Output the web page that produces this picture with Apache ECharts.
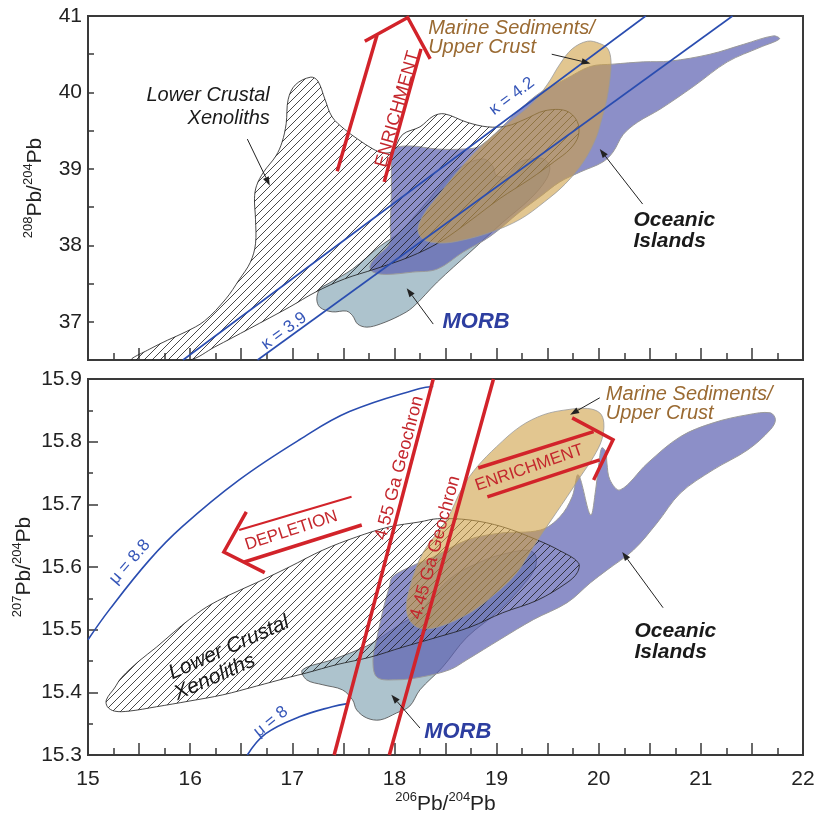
<!DOCTYPE html>
<html>
<head>
<meta charset="utf-8">
<script src="https://cdn.jsdelivr.net/npm/echarts@6.0.0/dist/echarts.min.js"></script>
<style>
  html, body { margin: 0; padding: 0; background: #fff; }
  #chart { width: 824px; height: 816px; }
</style>
</head>
<body>
<div id="chart"></div>
<script>
'use strict';

// ---- fields, top panel (208Pb/204Pb vs 206Pb/204Pb) ----
const xenoTop = [[15.43,36.5],[15.60,36.64],[15.78,36.76],[15.96,36.87],[16.14,37.01],[16.35,37.30],[16.48,37.55],[16.59,37.78],[16.64,38.02],[16.64,38.34],[16.63,38.61],[16.65,38.78],[16.72,38.96],[16.84,39.17],[16.90,39.35],[16.94,39.59],[16.96,39.91],[17.03,40.10],[17.18,40.20],[17.25,40.15],[17.32,39.91],[17.39,39.68],[17.51,39.52],[17.64,39.39],[17.79,39.26],[17.89,39.21],[17.98,39.23],[18.08,39.45],[18.25,39.55],[18.38,39.69],[18.49,39.72],[18.71,39.61],[18.91,39.55],[19.10,39.56],[19.28,39.65],[19.47,39.76],[19.68,39.76],[19.79,39.62],[19.80,39.43],[19.72,39.26],[19.57,39.10],[19.33,38.87],[19.03,38.61],[18.74,38.32],[18.44,38.04],[18.15,37.85],[17.81,37.69],[17.51,37.56],[17.23,37.39],[16.97,37.19],[16.58,36.91],[16.24,36.67],[15.99,36.5]];
const oibTop = [[17.98,39.26],[18.15,39.30],[18.42,39.26],[18.67,39.26],[18.84,39.30],[19.10,39.61],[19.23,39.78],[19.43,40.00],[19.67,40.17],[19.92,40.34],[20.14,40.37],[20.44,40.40],[20.70,40.41],[21.09,40.50],[21.42,40.63],[21.71,40.74],[21.77,40.70],[21.58,40.59],[21.26,40.40],[20.93,40.08],[20.60,39.78],[20.38,39.61],[20.24,39.45],[20.14,39.22],[20.04,39.09],[19.82,38.96],[19.62,38.83],[19.43,38.64],[19.23,38.44],[18.94,38.12],[18.67,37.91],[18.42,37.69],[18.18,37.65],[17.92,37.62],[17.79,37.65],[17.76,37.73],[17.83,37.86],[17.95,38.02],[17.96,38.27],[17.97,38.74],[17.97,39.13]];
const morbTop = [[17.27,37.43],[17.24,37.30],[17.27,37.19],[17.39,37.13],[17.53,37.14],[17.59,37.08],[17.64,36.97],[17.73,36.93],[17.86,36.97],[18.05,37.08],[18.18,37.19],[18.42,37.52],[18.74,37.91],[19.06,38.30],[19.33,38.61],[19.49,38.87],[19.52,39.04],[19.46,39.13],[19.40,39.14],[19.23,39.09],[19.10,38.91],[19.00,38.91],[18.96,39.04],[18.87,39.13],[18.67,39.04],[18.51,38.87],[18.28,38.51],[18.05,38.17],[17.86,37.99],[17.59,37.69],[17.34,37.49]];
const sedTop = [[19.89,40.67],[20.01,40.64],[20.09,40.57],[20.12,40.41],[20.11,40.17],[20.08,39.91],[20.03,39.65],[19.97,39.39],[19.85,39.09],[19.67,38.80],[19.47,38.57],[19.23,38.34],[18.94,38.17],[18.64,38.06],[18.44,38.03],[18.28,38.08],[18.23,38.21],[18.29,38.41],[18.44,38.67],[18.62,38.97],[18.79,39.22],[18.95,39.42],[19.15,39.64],[19.35,39.86],[19.50,40.11],[19.62,40.37],[19.74,40.57]];

// ---- fields, bottom panel (207Pb/204Pb vs 206Pb/204Pb) ----
const xenoBot = [[15.18,15.388],[15.26,15.407],[15.33,15.424],[15.50,15.450],[15.67,15.472],[15.84,15.496],[15.99,15.516],[16.16,15.536],[16.38,15.555],[16.65,15.575],[16.97,15.600],[17.30,15.627],[17.63,15.648],[17.95,15.664],[18.25,15.672],[18.42,15.677],[18.74,15.675],[19.06,15.664],[19.40,15.643],[19.62,15.626],[19.80,15.607],[19.79,15.591],[19.69,15.575],[19.40,15.547],[19.06,15.527],[18.74,15.504],[18.42,15.488],[18.08,15.472],[17.76,15.456],[17.43,15.444],[17.14,15.431],[16.97,15.424],[16.65,15.410],[16.32,15.396],[15.99,15.386],[15.67,15.377],[15.40,15.370],[15.26,15.370],[15.19,15.377]];
const oibBot = [[17.95,15.568],[17.98,15.584],[18.15,15.600],[18.38,15.616],[18.71,15.643],[19.03,15.654],[19.43,15.659],[19.62,15.680],[19.74,15.712],[19.80,15.747],[19.92,15.683],[19.97,15.723],[20.00,15.763],[20.03,15.790],[20.07,15.784],[20.08,15.766],[20.11,15.739],[20.21,15.723],[20.48,15.766],[20.80,15.808],[21.12,15.830],[21.46,15.843],[21.68,15.846],[21.73,15.835],[21.68,15.819],[21.46,15.787],[21.12,15.755],[20.80,15.718],[20.57,15.670],[20.34,15.627],[20.08,15.595],[19.92,15.575],[19.69,15.543],[19.36,15.516],[19.03,15.484],[18.71,15.452],[18.54,15.436],[18.25,15.424],[18.02,15.420],[17.83,15.424],[17.79,15.452],[17.83,15.488],[17.90,15.539]];
const morbBot = [[17.10,15.436],[17.14,15.420],[17.30,15.412],[17.49,15.404],[17.59,15.388],[17.63,15.372],[17.73,15.359],[17.86,15.356],[18.02,15.367],[18.15,15.378],[18.25,15.404],[18.47,15.440],[18.71,15.488],[19.03,15.531],[19.30,15.579],[19.38,15.600],[19.38,15.619],[19.30,15.627],[19.03,15.619],[18.87,15.610],[18.59,15.587],[18.38,15.555],[18.25,15.528],[18.05,15.508],[17.89,15.490],[17.73,15.474],[17.39,15.452]];
const sedBot = [[19.89,15.853],[20.01,15.846],[20.05,15.830],[20.03,15.803],[19.95,15.776],[19.82,15.744],[19.69,15.712],[19.49,15.664],[19.36,15.632],[19.20,15.591],[19.00,15.559],[18.74,15.527],[18.42,15.504],[18.22,15.504],[18.12,15.527],[18.15,15.568],[18.28,15.623],[18.51,15.675],[18.67,15.728],[18.81,15.760],[19.00,15.792],[19.23,15.824],[19.46,15.843],[19.69,15.851]];

// ---- reference lines ----
const kappa42 = [[15.93,36.5],[20.46,41]];
const kappa39 = [[16.66,36.5],[21.31,41]];
const mu88 = [[15.00,15.484],[15.21,15.532],[15.60,15.611],[15.92,15.664],[16.48,15.739],[17.07,15.803],[17.56,15.848],[18.25,15.885],[18.38,15.888]];
const mu8 = [[16.56,15.300],[16.74,15.334],[17.07,15.361],[17.39,15.377],[17.54,15.382]];
const geochron455 = [[17.41,15.3],[18.38,15.9]];
const geochron445 = [[17.95,15.3],[18.97,15.9]];

// ---- red trend arrows ----
const enrichTopLeft = [[17.44,38.97],[17.83,40.75]];
const enrichTopHead = [[17.71,40.67],[18.13,40.98],[18.35,40.44]];
const enrichTopRight = [[18.26,40.57],[17.90,38.83]];
const depleteUpper = [[17.58,15.712],[16.48,15.659]];
const depleteLower = [[17.68,15.667],[16.53,15.608]];
const depleteHead = [[16.55,15.688],[16.33,15.624],[16.73,15.591]];
const enrichBotUpper = [[18.82,15.758],[19.95,15.816]];
const enrichBotLower = [[18.91,15.712],[20.01,15.771]];
const enrichBotHead = [[19.74,15.838],[20.14,15.803],[19.95,15.739]];

// ---- pointer arrows [x1, y1, x2(tip), y2(tip)] ----
const pointersTop = [[16.56,39.39,16.78,38.78],[19.54,40.50,19.92,40.38],[18.38,36.97,18.12,37.44],[20.43,38.54,20.01,39.26]];
const pointersBot = [[20.01,15.870,19.72,15.843],[20.63,15.535,20.23,15.624],[18.25,15.343,17.97,15.396]];

// ---- labels [text, x, y, style key] ----
const labelsTop = [
  ['Lower Crustal\nXenoliths', 16.78, 39.81, 'xenoTop'],
  ['Marine Sediments/\nUpper Crust', 18.33, 40.71, 'sed'],
  ['ENRICHMENT', 18.03, 39.78, 'enrTop'],
  ['κ = 4.2', 19.15, 39.95, 'k42'],
  ['κ = 3.9', 16.92, 36.88, 'k39'],
  ['MORB', 18.80, 37.00, 'morb'],
  ['Oceanic\nIslands', 20.34, 38.19, 'oib']
];
const labelsBot = [
  ['Lower Crustal', 16.38, 15.471, 'xenoBot'],
  ['Xenoliths', 16.24, 15.424, 'xenoBot'],
  ['Marine Sediments/\nUpper Crust', 20.07, 15.861, 'sed'],
  ['Oceanic\nIslands', 20.35, 15.480, 'oib'],
  ['MORB', 18.62, 15.337, 'morb'],
  ['DEPLETION', 16.99, 15.658, 'depl'],
  ['ENRICHMENT', 19.32, 15.758, 'enrBot'],
  ['4.55 Ga Geochron', 18.05, 15.758, 'g455'],
  ['4.45 Ga Geochron', 18.40, 15.631, 'g445'],
  ['μ = 8.8', 15.41, 15.608, 'mu88'],
  ['μ = 8', 16.79, 15.353, 'mu8']
];

const FONT = 'Arial, "Liberation Sans", Helvetica, sans-serif';
const RED = '#d2232a';
const RED_TXT = '#c4272d';
const BLUE = '#2a4db0';
const BLUE_TXT = '#3656b8';
const BROWN = '#9a6a32';

const textStyles = {
  xenoTop: { rot: 0, size: 20, style: 'italic', weight: 'normal', color: '#1a1a1a', align: 'right', lh: 23 },
  xenoBot: { rot: 24, size: 21, style: 'italic', weight: 'normal', color: '#1a1a1a', align: 'center' },
  sed: { rot: 0, size: 20, style: 'italic', weight: 'normal', color: BROWN, align: 'left', lh: 19 },
  enrTop: { rot: 74, size: 18, style: 'normal', weight: 'normal', color: RED_TXT, align: 'center' },
  enrBot: { rot: 19, size: 17, style: 'normal', weight: 'normal', color: RED_TXT, align: 'center' },
  depl: { rot: 18, size: 17, style: 'normal', weight: 'normal', color: RED_TXT, align: 'center' },
  g455: { rot: 75.3, size: 18, style: 'normal', weight: 'normal', color: RED_TXT, align: 'center' },
  g445: { rot: 74.6, size: 18, style: 'normal', weight: 'normal', color: RED_TXT, align: 'center' },
  k42: { rot: 36.7, size: 17, style: 'normal', weight: 'normal', color: BLUE_TXT, align: 'center' },
  k39: { rot: 36, size: 17, style: 'normal', weight: 'normal', color: BLUE_TXT, align: 'center' },
  mu88: { rot: 49, size: 17, style: 'normal', weight: 'normal', color: BLUE_TXT, align: 'center' },
  mu8: { rot: 39, size: 17, style: 'normal', weight: 'normal', color: BLUE_TXT, align: 'center' },
  morb: { rot: 0, size: 22, style: 'italic', weight: 'bold', color: '#2d3ea0', align: 'center' },
  oib: { rot: 0, size: 21, style: 'italic', weight: 'bold', color: '#1a1a1a', align: 'left', lh: 21 }
};

// diagonal hatch used for the xenolith fields
const hatch = document.createElement('canvas');
hatch.width = 8; hatch.height = 8;
(function () {
    const c = hatch.getContext('2d');
    c.strokeStyle = '#1a1a1a';
    c.lineWidth = 0.8;
    c.beginPath();
    [-8, 0, 8].forEach(k => { c.moveTo(k, 8); c.lineTo(k + 8, 0); });
    c.stroke();
})();

const MORB_STYLE = { fill: '#adc3cd', stroke: '#4a4a4a', lineWidth: 0.8 };
const OIB_STYLE = { fill: 'rgba(91,96,176,0.7)', stroke: '#9a9a9a', lineWidth: 1 };
const XENO_STYLE = { fill: { image: hatch, repeat: 'repeat' }, stroke: '#1a1a1a', lineWidth: 0.8 };
const SED_STYLE = { fill: 'rgba(207,160,70,0.6)', stroke: '#999999', lineWidth: 0.8 };

function polySeries(pts, gi, style, z) {
    return {
        type: 'custom', xAxisIndex: gi, yAxisIndex: gi, z: z, silent: true, clip: true,
        animation: false,
        data: [pts[0]],
        renderItem: function (params, api) {
            return {
                type: 'polygon',
                shape: { points: pts.map(p => api.coord(p)), smooth: 0.35 },
                style: Object.assign({}, style)
            };
        }
    };
}

function lineSeries(pts, gi, color, width, z, smooth) {
    return {
        type: 'line', xAxisIndex: gi, yAxisIndex: gi, data: pts, symbol: 'none',
        smooth: smooth ? 0.4 : false, silent: true, animation: false, z: z,
        lineStyle: { color: color, width: width, cap: 'butt', join: 'miter' }
    };
}

function pointerSeries(list, gi) {
    return {
        type: 'custom', xAxisIndex: gi, yAxisIndex: gi, z: 8, silent: true, animation: false,
        data: list.map(a => [a[0], a[1]]),
        renderItem: function (params, api) {
            const a = list[params.dataIndex];
            const p1 = api.coord([a[0], a[1]]);
            const p2 = api.coord([a[2], a[3]]);
            const ang = Math.atan2(p2[1] - p1[1], p2[0] - p1[0]);
            const L = 9, W = 3.2;
            const bx = p2[0] - L * Math.cos(ang), by = p2[1] - L * Math.sin(ang);
            return {
                type: 'group',
                children: [
                    { type: 'line', shape: { x1: p1[0], y1: p1[1], x2: bx, y2: by },
                      style: { stroke: '#222', lineWidth: 1 } },
                    { type: 'polygon',
                      shape: { points: [p2,
                          [bx + W * Math.sin(ang), by - W * Math.cos(ang)],
                          [bx - W * Math.sin(ang), by + W * Math.cos(ang)]] },
                      style: { fill: '#222' } }
                ]
            };
        }
    };
}

function labelSeries(list, gi) {
    return {
        type: 'custom', xAxisIndex: gi, yAxisIndex: gi, z: 9, silent: true, animation: false,
        data: list.map(l => [l[1], l[2]]),
        renderItem: function (params, api) {
            const l = list[params.dataIndex];
            const s = textStyles[l[3]];
            const p = api.coord([l[1], l[2]]);
            return {
                type: 'text', x: p[0], y: p[1], rotation: s.rot * Math.PI / 180,
                style: {
                    text: l[0], fill: s.color, fontSize: s.size, fontFamily: FONT,
                    fontStyle: s.style, fontWeight: s.weight, align: s.align,
                    verticalAlign: 'middle', lineHeight: s.lh || s.size
                }
            };
        }
    };
}

const axisLineStyle = { show: true, lineStyle: { color: '#3a3a3a', width: 2 } };
const nameRich = {
    s: { fontSize: 13, fontFamily: FONT, color: '#222', lineHeight: 16, verticalAlign: 'top' },
    n: { fontSize: 21, fontFamily: FONT, color: '#222', lineHeight: 26 }
};

function xAxis(gi, showLabels) {
    return {
        type: 'value', gridIndex: gi, min: 15, max: 22, interval: 0.5,
        axisLine: axisLineStyle,
        axisTick: { show: true, inside: true, length: 12, lineStyle: { color: '#3a3a3a', width: 1.5 } },
        minorTick: { show: true, splitNumber: 2, length: 7, lineStyle: { color: '#3a3a3a', width: 1.5 } },
        splitLine: { show: false }, minorSplitLine: { show: false },
        axisLabel: {
            show: showLabels, margin: 14, fontSize: 21, fontFamily: FONT, color: '#222',
            formatter: v => (Number.isInteger(v) ? String(v) : '')
        },
        name: showLabels ? '{s|206}{n|Pb/}{s|204}{n|Pb}' : '',
        nameLocation: 'middle', nameGap: 36,
        nameTextStyle: { rich: nameRich }
    };
}

const option = {
    animation: false,
    backgroundColor: '#ffffff',
    grid: [
        { left: 88, top: 16, width: 715, height: 344, show: true, borderColor: '#3a3a3a', borderWidth: 2, backgroundColor: 'transparent' },
        { left: 88, top: 379, width: 715, height: 376, show: true, borderColor: '#3a3a3a', borderWidth: 2, backgroundColor: 'transparent' }
    ],
    xAxis: [xAxis(0, false), xAxis(1, true)],
    yAxis: [
        {
            type: 'value', gridIndex: 0, min: 36.5, max: 41, interval: 0.5,
            axisLine: axisLineStyle,
            axisTick: { show: true, inside: true, length: 6, lineStyle: { color: '#3a3a3a', width: 1.5 } },
            splitLine: { show: false },
            axisLabel: { margin: 6, fontSize: 21, fontFamily: FONT, color: '#222',
                formatter: v => (Number.isInteger(v) ? String(v) : '') },
            name: '{s|208}{n|Pb/}{s|204}{n|Pb}', nameLocation: 'middle', nameGap: 40,
            nameMoveOverlap: false,
            nameTextStyle: { rich: nameRich }
        },
        {
            type: 'value', gridIndex: 1, min: 15.3, max: 15.9, interval: 0.1,
            axisLine: axisLineStyle,
            axisTick: { show: true, inside: true, length: 10, lineStyle: { color: '#3a3a3a', width: 1.5 } },
            minorTick: { show: true, splitNumber: 2, length: 5, lineStyle: { color: '#3a3a3a', width: 1.5 } },
            splitLine: { show: false }, minorSplitLine: { show: false },
            axisLabel: { margin: 6, fontSize: 21, fontFamily: FONT, color: '#222',
                formatter: v => v.toFixed(1) },
            name: '{s|207}{n|Pb/}{s|204}{n|Pb}', nameLocation: 'middle', nameGap: 51,
            nameMoveOverlap: false,
            nameTextStyle: { rich: nameRich }
        }
    ],
    series: [
        // top panel fields
        polySeries(morbTop, 0, MORB_STYLE, 1),
        polySeries(oibTop, 0, OIB_STYLE, 2),
        polySeries(xenoTop, 0, XENO_STYLE, 3),
        polySeries(sedTop, 0, SED_STYLE, 4),
        lineSeries(kappa42, 0, BLUE, 1.6, 5),
        lineSeries(kappa39, 0, BLUE, 1.6, 5),
        lineSeries(enrichTopLeft, 0, RED, 3.5, 6),
        lineSeries(enrichTopHead, 0, RED, 3.5, 6),
        lineSeries(enrichTopRight, 0, RED, 3.5, 6),
        pointerSeries(pointersTop, 0),
        labelSeries(labelsTop, 0),

        // bottom panel fields
        polySeries(morbBot, 1, MORB_STYLE, 1),
        polySeries(oibBot, 1, OIB_STYLE, 2),
        polySeries(xenoBot, 1, XENO_STYLE, 3),
        polySeries(sedBot, 1, SED_STYLE, 4),
        lineSeries(mu88, 1, BLUE, 1.6, 5, true),
        lineSeries(mu8, 1, BLUE, 1.6, 5, true),
        lineSeries(geochron455, 1, RED, 3.5, 6),
        lineSeries(geochron445, 1, RED, 3.5, 6),
        lineSeries(depleteUpper, 1, RED, 2, 6),
        lineSeries(depleteLower, 1, RED, 3.5, 6),
        lineSeries(depleteHead, 1, RED, 3.5, 6),
        lineSeries(enrichBotUpper, 1, RED, 3.5, 6),
        lineSeries(enrichBotLower, 1, RED, 3.5, 6),
        lineSeries(enrichBotHead, 1, RED, 3.5, 6),
        pointerSeries(pointersBot, 1),
        labelSeries(labelsBot, 1)
    ]
};

const myChart = echarts.init(document.getElementById('chart'));
myChart.setOption(option);
</script>
</body>
</html>
